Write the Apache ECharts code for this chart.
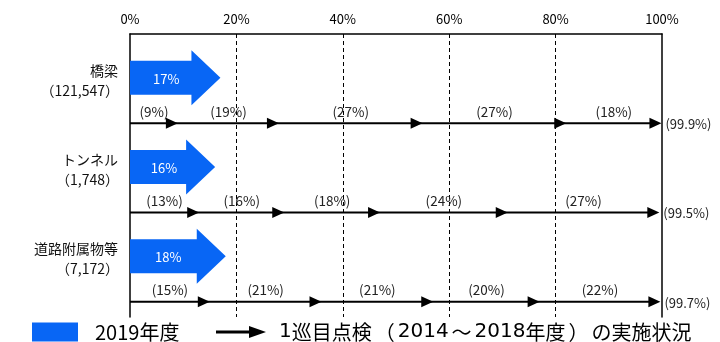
<!DOCTYPE html>
<html>
<head>
<meta charset="utf-8">
<script src="https://cdn.jsdelivr.net/npm/echarts@6/dist/echarts.min.js"></script>
<style>html,body{margin:0;padding:0;background:#fff}#c{width:720px;height:342px}</style>
</head>
<body>
<div id="c"></div>
<script>
const categories = ['橋梁', 'トンネル', '道路附属物等'];
const facilityCounts = ['121,547', '1,748', '7,172'];
const share2019 = [17, 16, 18];
const bridgeShares = [9, 19, 27, 27, 18];
const tunnelShares = [13, 16, 18, 24, 27];
const accessoryShares = [15, 21, 21, 20, 22];
const cycleTotals = [99.9, 99.5, 99.7];
const legend2019 = '2019年度';
const legendCycle = '1巡目点検（2014～2018年度）の実施状況';

const FONT = '"Noto Sans CJK JP", "Noto Sans", sans-serif';
const FONT_TC = '"Noto Sans CJK TC", "Noto Sans CJK JP", sans-serif';
const LINE_OFFSET = 45.5;

const rowShares = [bridgeShares, tunnelShares, accessoryShares];
// segments: [row, start, end, share]
const segmentData = [];
rowShares.forEach((shares, r) => {
  let cum = 0;
  shares.forEach((s, k) => {
    const start = cum;
    cum += s;
    const end = (k === shares.length - 1) ? cycleTotals[r] : cum;
    segmentData.push([r, start, end, s]);
  });
});
const lineData = cycleTotals.map((t, r) => [r, t]);
const arrowData = share2019.map((v, r) => [r, v]);

function renderArrow(params, api) {
  const r = api.value(0), v = api.value(1);
  const p0 = api.coord([0, r]);
  const p1 = api.coord([v, r]);
  const y = p0[1], x0 = p0[0], tip = p1[0];
  const hs = tip - 29;
  return {
    type: 'group',
    children: [
      { type: 'polygon',
        shape: { points: [[x0, y - 17], [hs, y - 17], [hs, y - 27.5], [tip, y], [hs, y + 27.5], [hs, y + 17], [x0, y + 17]] },
        style: { fill: '#0866f5' } },
      { type: 'text', x: x0 + (tip - x0) * 0.4, y: y + 1,
        style: { text: v + '%', fill: '#fff', font: '13px ' + FONT, align: 'center', verticalAlign: 'middle' } },
      { type: 'text', x: x0 - 12, y: y - 7.5,
        style: { text: categories[r], fill: '#111', font: '14px ' + FONT, align: 'right', verticalAlign: 'middle' } },
      { type: 'text', x: x0 - 11, y: y + 12.5,
        style: { text: '（' + facilityCounts[r] + '）', fill: '#111', font: '14px ' + FONT_TC, align: 'right', verticalAlign: 'middle' } }
    ]
  };
}

function renderLine(params, api) {
  const r = api.value(0), t = api.value(1);
  const p0 = api.coord([0, r]);
  const p1 = api.coord([t, r]);
  const y = p0[1] + LINE_OFFSET;
  return {
    type: 'group',
    children: [
      { type: 'line', shape: { x1: p0[0], y1: y, x2: p1[0] - 4, y2: y }, style: { stroke: '#000', lineWidth: 2 } },
      { type: 'text', x: p1[0] + 4, y: y + 1,
        style: { text: '(' + t + '%)', fill: '#222', font: '13px ' + FONT, align: 'left', verticalAlign: 'middle' } }
    ]
  };
}

function renderSegment(params, api) {
  const r = api.value(0), start = api.value(1), end = api.value(2), share = api.value(3);
  const pe = api.coord([end, r]);
  const pm = api.coord([(start + end) / 2, r]);
  const y = pe[1] + LINE_OFFSET;
  const xe = pe[0];
  return {
    type: 'group',
    children: [
      { type: 'polygon', shape: { points: [[xe - 12, y - 5.5], [xe, y], [xe - 12, y + 5.5]] }, style: { fill: '#000' } },
      { type: 'text', x: pm[0], y: y - 11.5,
        style: { text: '(' + share + '%)', fill: '#222', font: '13.5px ' + FONT, align: 'center', verticalAlign: 'middle' } }
    ]
  };
}

function legendRich(name) {
  return name.replace(/([0-9]+)/g, '{d|$1}').replace(/([（）～])/g, '{p|$1}');
}

const chart = echarts.init(document.getElementById('c'), null, { renderer: 'canvas' });
chart.setOption({
  animation: false,
  backgroundColor: '#fff',
  grid: { left: 130, right: 58, top: 34, bottom: 25, containLabel: false, outerBoundsMode: 'none' },
  xAxis: {
    type: 'value', position: 'top', min: 0, max: 100, interval: 20,
    axisLine: { show: true, onZero: false, lineStyle: { color: '#000', width: 1.5 } },
    axisTick: { show: false },
    axisLabel: { formatter: '{value}%', color: '#000', fontSize: 13, fontFamily: FONT, margin: 8 },
    splitLine: { show: true, showMinLine: false, showMaxLine: false, lineStyle: { color: '#000', type: [4, 3], width: 1 } }
  },
  yAxis: [
    { type: 'value', inverse: true, min: -0.49, max: 2.68,
      axisLine: { show: true, onZero: false, lineStyle: { color: '#000', width: 1.5 } },
      axisTick: { show: false }, axisLabel: { show: false }, splitLine: { show: false } },
    { type: 'value', inverse: true, min: -0.49, max: 2.68, position: 'right',
      axisLine: { show: true, onZero: false, lineStyle: { color: '#000', width: 1.5 } },
      axisTick: { show: false }, axisLabel: { show: false }, splitLine: { show: false } }
  ],
  legend: [
    { data: [{ name: legend2019, icon: 'rect' }], left: 32, top: 322, padding: 0,
      itemWidth: 46, itemHeight: 19, selectedMode: false,
      textStyle: { fontSize: 20, color: '#000', fontFamily: FONT, padding: [0, 0, 0, 12] } },
    { data: [{ name: legendCycle, icon: 'path://M0,4.5 L33,4.5 L33,0 L50,6 L33,12 L33,7.5 L0,7.5 Z' }],
      left: 216, top: 322, padding: 0, itemWidth: 50, itemHeight: 12, selectedMode: false,
      formatter: legendRich,
      textStyle: { fontSize: 20, color: '#000', fontFamily: FONT, padding: [0, 0, 0, 8],
        rich: {
          d: { fontSize: 20, color: '#000', fontFamily: '"DejaVu Sans", sans-serif' },
          p: { fontSize: 20, color: '#000', fontFamily: FONT_TC, padding: [0, 3, 0, 3] }
        } } }
  ],
  series: [
    { name: legend2019, type: 'custom', renderItem: renderArrow, data: arrowData,
      itemStyle: { color: '#0866f5' }, encode: { x: 1, y: 0 } },
    { name: legendCycle, type: 'custom', renderItem: renderLine, data: lineData,
      itemStyle: { color: '#000' }, encode: { x: 1, y: 0 } },
    { name: legendCycle, type: 'custom', renderItem: renderSegment, data: segmentData,
      itemStyle: { color: '#000' }, encode: { x: [1, 2], y: 0 } }
  ]
});
</script>
</body>
</html>
